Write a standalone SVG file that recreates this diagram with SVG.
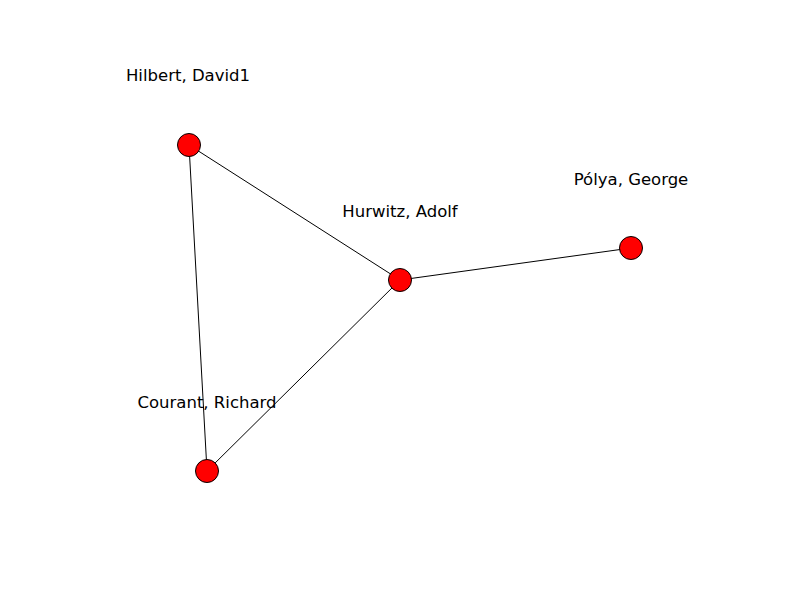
<svg xmlns="http://www.w3.org/2000/svg" width="800" height="600" viewBox="0 0 800 600">
<style>
.edge{stroke:#000;stroke-width:1;fill:none}
.node circle{fill:#ff0000;stroke:#000;stroke-width:1}
.lbl{font-family:"DejaVu Sans",sans-serif;font-size:16.5px;fill:#000;text-anchor:middle}
</style>
<rect width="800" height="600" fill="#fff"/>
<g id="edges">
<line class="edge" x1="189" y1="145" x2="400" y2="280"/>
<line class="edge" x1="189" y1="145" x2="207" y2="471"/>
<line class="edge" x1="400" y1="280" x2="207" y2="471"/>
<line class="edge" x1="400" y1="280" x2="631" y2="248"/>
</g>
<g id="hilbert" class="node"><circle cx="189" cy="145" r="11.5"/><text class="lbl" x="188" y="81">Hilbert, David1</text></g>
<g id="hurwitz" class="node"><circle cx="400" cy="280" r="11.5"/><text class="lbl" x="400" y="217">Hurwitz, Adolf</text></g>
<g id="polya" class="node"><circle cx="631" cy="248" r="11.5"/><text class="lbl" x="631" y="185">Pólya, George</text></g>
<g id="courant" class="node"><circle cx="207" cy="471" r="11.5"/><text class="lbl" x="207" y="408">Courant, Richard</text></g>
</svg>
